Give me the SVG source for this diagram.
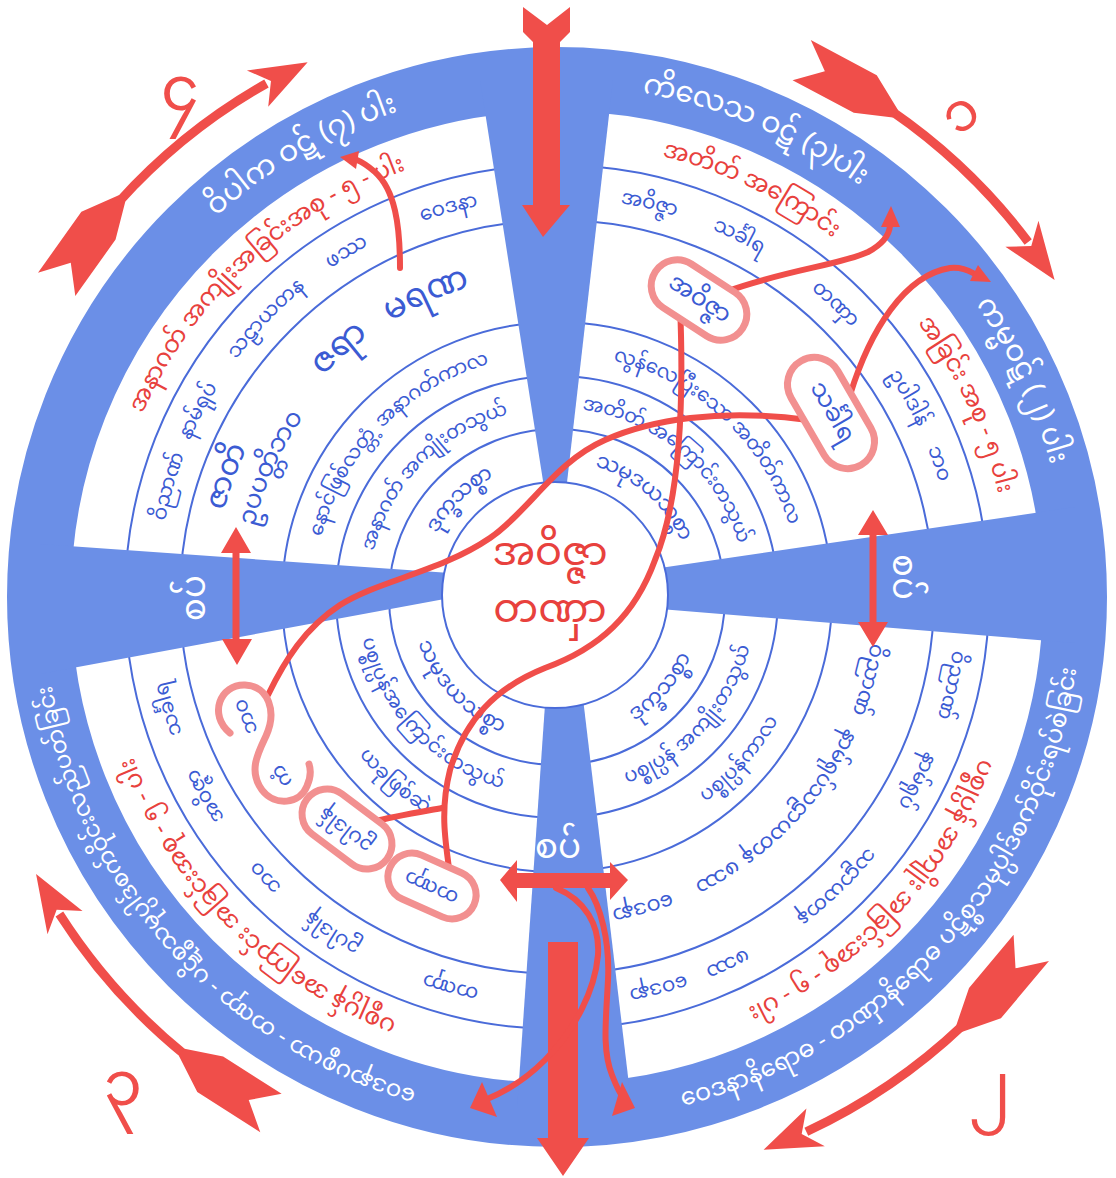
<svg xmlns="http://www.w3.org/2000/svg" width="1116" height="1178" viewBox="0 0 1116 1178">
<style>
text { font-family: 'Noto Sans Myanmar','Padauk','Myanmar Text','Noto Sans',sans-serif; text-anchor: middle; dominant-baseline: central; }
.w { fill:#ffffff; font-size:29px; }
.wl { fill:#ffffff; font-size:23px; }
.r { fill:#e8413d; font-size:24px; }
.b { fill:#3b5bd3; font-size:20px; }
.s { fill:#3b5bd3; font-size:19.5px; }
.m { fill:#3b5bd3; font-size:21px; }
.ring { fill:none; stroke:#4a6bd9; stroke-width:2; }
.blue { fill:#6b8fe7; }
.red { fill:#f04e4a; }
.rl { fill:none; stroke:#f04e4a; stroke-width:6; stroke-linecap:round; }
.pk { fill:#ffffff; stroke:#f29090; stroke-width:7; }
.pkl { fill:none; stroke:#f29090; stroke-width:7; stroke-linecap:round; }
.num { fill:#f04e4a; font-size:62px; }
</style>
<defs>
<path id="cw518" d="M 557,1115 A 518 518 0 1 1 557,79 A 518 518 0 1 1 557,1115"/>
<path id="ccw518" d="M 557,79 A 518 518 0 1 0 557,1115 A 518 518 0 1 0 557,79"/>
<path id="cw459" d="M 557,1056 A 459 459 0 1 1 557,138 A 459 459 0 1 1 557,1056"/>
<path id="cw404" d="M 557,1001 A 404 404 0 1 1 557,193 A 404 404 0 1 1 557,1001"/>
<path id="cw351" d="M 557,948 A 351 351 0 1 1 557,246 A 351 351 0 1 1 557,948"/>
<path id="cw317" d="M 557,914 A 317 317 0 1 1 557,280 A 317 317 0 1 1 557,914"/>
<path id="cw330" d="M 557,927 A 330 330 0 1 1 557,267 A 330 330 0 1 1 557,927"/>
<path id="cw322" d="M 557,919 A 322 322 0 1 1 557,275 A 322 322 0 1 1 557,919"/>
<path id="cw248" d="M 557,845 A 248 248 0 1 1 557,349 A 248 248 0 1 1 557,845"/>
<path id="ccw248" d="M 557,349 A 248 248 0 1 0 557,845 A 248 248 0 1 0 557,349"/>
<path id="cw194" d="M 557,791 A 194 194 0 1 1 557,403 A 194 194 0 1 1 557,791"/>
<path id="ccw194" d="M 557,403 A 194 194 0 1 0 557,791 A 194 194 0 1 0 557,403"/>
<path id="cw141" d="M 557,738 A 141 141 0 1 1 557,456 A 141 141 0 1 1 557,738"/>
<path id="ccw141" d="M 557,456 A 141 141 0 1 0 557,738 A 141 141 0 1 0 557,456"/>
<g id="arc-arrow">
<path d="M 102.45,-581.04 A 590 590 0 0 1 281.52,-518.50" fill="none" stroke="#f04e4a" stroke-width="9"/>
<polygon class="red" points="0,-612 74.58,-607.44 108.34,-584.54 106.70,-575.69 69.22,-563.77 0,-568 25.74,-589.44"/>
<polygon class="red" points="321.34,-494.82 282.13,-541.96 286.04,-516.03 262.74,-504.71"/>
</g>
</defs>

<rect width="1116" height="1178" fill="#ffffff"/>

<g id="wheel">
<circle class="ring" cx="557" cy="597" r="432"/>
<circle class="ring" cx="557" cy="597" r="377"/>
<circle class="ring" cx="557" cy="597" r="275"/>
<circle class="ring" cx="557" cy="597" r="221"/>
<circle class="ring" cx="557" cy="597" r="168"/>
<circle cx="557" cy="597" r="518" fill="none" stroke="#6b8fe7" stroke-width="64"/>
<polygon class="blue" points="480,80 613,80 565,500 546,500"/>
<polygon class="blue" points="40,544 450,573 450,598 40,674"/>
<polygon class="blue" points="1075,507 660,568 660,609 1075,643"/>
<polygon class="blue" points="546,690 582,690 632,1110 517,1110"/>
<circle cx="555" cy="595" r="113" fill="#ffffff" stroke="#4a6bd9" stroke-width="2"/>
</g>

<g id="band-labels">
<text class="w"><textPath href="#cw518" startOffset="1356.1">ဝိပါက ဝဋ် (၇) ပါး</textPath></text>
<text class="w"><textPath href="#cw518" startOffset="1835.3">ကိလေသ ဝဋ် (၃)ပါး</textPath></text>
<text class="w"><textPath href="#cw518" startOffset="2215.0">ကမ္မဝဋ် (၂) ပါး</textPath></text>
<text class="wl"><textPath href="#cw518" startOffset="434.0">ဝေဒနာပစ္စယာ - တဏှာ - ပဋိစ္စသမုပ္ပါဒ်စက်ဝိုင်းလည်ပတ်ခြင်း</textPath></text>
<text class="wl" style="font-size:24px"><textPath href="#ccw518" startOffset="2061.3">ဝေဒနာနိရောဓ - တဏှာနိရောဓ ပဋိစ္စသမုပ္ပါဒ်စက်ဝိုင်းရပ်စဲခြင်း</textPath></text>
<text class="w" style="font-size:34px" transform="translate(558,850)">စပ်</text>
<text class="w" style="font-size:34px" transform="translate(197,598) rotate(-90)">စပ်</text>
<text class="w" style="font-size:34px" transform="translate(901,577) rotate(90)">စပ်</text>
</g>

<g id="quadrant-past-cause">
<text class="r"><textPath href="#cw459" startOffset="1646.3">အတိတ် အကြောင်း</textPath></text>
<text class="r"><textPath href="#cw459" startOffset="1961.1">အခြင်း အစု - ၅ ပါး</textPath></text>
<text class="b"><textPath href="#cw404" startOffset="1362.3">အဝိဇ္ဇာ</textPath></text>
<text class="b"><textPath href="#cw404" startOffset="1458.2">သင်္ခါရ</textPath></text>
<text class="b"><textPath href="#cw404" startOffset="1575.9">တဏှာ</textPath></text>
<text class="b"><textPath href="#cw404" startOffset="1695.1">ဥပါဒါန်</textPath></text>
<text class="b"><textPath href="#cw404" startOffset="1767.7">ဘဝ</textPath></text>
<text class="s"><textPath href="#cw248" startOffset="965.2">လွန်လေပြီးသော အတိတ်ကာလ</textPath></text>
<text class="s"><textPath href="#cw194" startOffset="746.9">အတိတ် အကြောင်းတသွယ်</textPath></text>
<text class="m"><textPath href="#cw141" startOffset="543.9">သမုဒယသစ္စာ</textPath></text>
</g>

<g id="quadrant-present-effect">
<text class="r"><textPath href="#cw459" startOffset="2507.5">ပစ္စုပ္ပန် အကျိုး အခြင်းအစု - ၅ - ပါး</textPath></text>
<text class="b"><textPath href="#cw404" startOffset="1992.6">ဝိညာဏ်</textPath></text>
<text class="b"><textPath href="#cw404" startOffset="2094.2">နာမ်ရုပ်</textPath></text>
<text class="b"><textPath href="#cw404" startOffset="2228.1">သဠာယတန</textPath></text>
<text class="b"><textPath href="#cw404" startOffset="2362.1">ဖဿ</textPath></text>
<text class="b"><textPath href="#cw404" startOffset="2435.5">ဝေဒနာ</textPath></text>
<text class="m"><textPath href="#cw322" startOffset="1600.6">ဝိညာဏ်</textPath></text>
<text class="m"><textPath href="#cw322" startOffset="1686.0">နာမ်ရုပ်</textPath></text>
<text class="m"><textPath href="#cw322" startOffset="1770.3">သဠာယတန</textPath></text>
<text class="m"><textPath href="#cw322" startOffset="1854.6">ဖဿ</textPath></text>
<text class="m"><textPath href="#cw322" startOffset="1935.5">ဝေဒနာ</textPath></text>
<text class="s"><textPath href="#ccw248" startOffset="988.2">ပစ္စုပ္ပန်ကာလ</textPath></text>
<text class="s"><textPath href="#ccw194" startOffset="772.0">ပစ္စုပ္ပန် အကျိုးတသွယ်</textPath></text>
<text class="m"><textPath href="#ccw141" startOffset="563.5">ဒုက္ခသစ္စာ</textPath></text>
</g>

<g id="quadrant-present-cause">
<text class="r"><textPath href="#cw459" startOffset="360.5">ပစ္စုပ္ပန် အကြောင်း အခြင်းအစု - ၅ - ပါး</textPath></text>
<text class="b"><textPath href="#cw404" startOffset="107.9">တဏှာ</textPath></text>
<text class="b"><textPath href="#cw404" startOffset="237.6">ဥပါဒါန်</textPath></text>
<text class="b"><textPath href="#cw404" startOffset="325.1">ဘဝ</textPath></text>
<text class="b"><textPath href="#cw404" startOffset="426.6">အဝိဇ္ဇာ</textPath></text>
<text class="b"><textPath href="#cw404" startOffset="521.1">သင်္ခါရ</textPath></text>
<text class="s"><textPath href="#ccw248" startOffset="600.0">ယခုဖြစ်ဆဲ</textPath></text>
<text class="s"><textPath href="#ccw194" startOffset="450.3">ပစ္စုပ္ပန်အကြောင်းတသွယ်</textPath></text>
<text class="m"><textPath href="#ccw141" startOffset="327.3">သမုဒယသစ္စာ</textPath></text>
</g>

<g id="quadrant-future-effect">
<text class="r"><textPath href="#cw459" startOffset="1099.1">အနာဂတ် အကျိုးအခြင်းအစု - ၅ - ပါး</textPath></text>
<text class="b"><textPath href="#cw404" startOffset="746.7">ဝိညာဏ်</textPath></text>
<text class="b"><textPath href="#cw404" startOffset="827.8">နာမ်ရုပ်</textPath></text>
<text class="b"><textPath href="#cw404" startOffset="942.7">သဠာယတန</textPath></text>
<text class="b"><textPath href="#cw404" startOffset="1047.8">ဖဿ</textPath></text>
<text class="b"><textPath href="#cw404" startOffset="1159.2">ဝေဒနာ</textPath></text>
<text class="b" style="font-size:30px"><textPath href="#cw351" startOffset="673.9">ဇာတိ</textPath></text>
<text class="b" style="font-size:25px"><textPath href="#cw317" startOffset="631.8">ဥပပတ္တိဘဝ</textPath></text>
<text class="b" style="font-size:34px"><textPath href="#cw330" startOffset="798.9">ဇရာ</textPath></text>
<text class="b" style="font-size:34px"><textPath href="#cw330" startOffset="901.4">မရဏ</textPath></text>
<text class="s"><textPath href="#cw248" startOffset="580.0">နောင်ဖြစ်လတ္တံ့ အနာဂတ်ကာလ</textPath></text>
<text class="s"><textPath href="#cw194" startOffset="455.4">အနာဂတ် အကျိုးတသွယ်</textPath></text>
<text class="m"><textPath href="#cw141" startOffset="332.2">ဒုက္ခသစ္စာ</textPath></text>
</g>

<g id="center">
<text x="550" y="555" fill="#e8413d" style="font-size:40px">အဝိဇ္ဇာ</text>
<text x="550" y="612" fill="#e8413d" style="font-size:40px">တဏှာ</text>
</g>

<g id="connectors">
<path class="rl" d="M 400,268 C 400,225 395,190 375,172 C 368,166 362,162 357,160"/>
<polygon class="red" points="340,157 359,151 356,169"/>
<path class="rl" d="M 725,292 C 785,270 840,265 868,252 C 883,244 889,236 890,226"/>
<polygon class="red" points="891,206 881,227 900,227"/>
<path class="rl" d="M 850,395 C 870,330 905,275 950,268 C 960,267 966,269 973,273"/>
<polygon class="red" points="991,282 970,281 978,265"/>
<path class="rl" d="M 808,420 C 720,408 650,420 605,440 C 555,462 530,510 490,538 C 440,572 380,580 340,605 C 305,628 285,660 268,695"/>
<path class="rl" d="M 680,305 C 684,400 680,500 655,560 C 635,615 600,648 545,668 C 495,688 465,720 450,770 C 440,810 445,840 450,875"/>
<path class="rl" d="M 372,822 C 395,816 420,812 442,808"/>
</g>

<g id="boxes">
<rect class="pk" x="-52" y="-26" width="104" height="52" rx="26" transform="translate(699,300) rotate(33)"/>
<text class="m" style="font-size:24px" transform="translate(699,300) rotate(33)">အဝိဇ္ဇာ</text>
<rect class="pk" x="-60" y="-27" width="120" height="54" rx="27" transform="translate(831,413) rotate(60)"/>
<text class="m" style="font-size:24px" transform="translate(831,413) rotate(60)">သင်္ခါရ</text>
<path class="pkl" d="M 230,733 C 208,715 220,684 245,685 C 269,686 277,712 266,736 C 258,753 248,771 262,790 C 275,807 300,804 307,786 C 311,777 311,770 309,764"/>
<text class="b" transform="translate(247,716) rotate(249)">ဘဝ</text>
<text class="b" transform="translate(283,775) rotate(237)">ကံ</text>
<rect class="pk" x="-50" y="-25" width="100" height="50" rx="25" transform="translate(347,829) rotate(217)"/>
<text class="b" transform="translate(347,829) rotate(217)">ဥပါဒါန်</text>
<rect class="pk" x="-46" y="-24" width="92" height="48" rx="24" transform="translate(432,886) rotate(204)"/>
<text class="b" transform="translate(432,886) rotate(204)">တဏှာ</text>
</g>

<g id="arrows">
<polygon class="red" points="523,7 547,25 570,7 570,32 560,42 560,205 570,205 543,237 522,205 533,205 533,42 523,32"/>
<polygon class="red" points="236,527 251,553 239.5,553 239.5,639 252,639 237,665 222,639 232.5,639 232.5,553 221,553"/>
<polygon class="red" points="873,510 888,535 876.5,535 876.5,622 888,622 873,647 858,622 869.5,622 869.5,535 858,535"/>
<polygon class="red" points="500,880 517,860 517,873 610,873 610,862 628,880 610,900 610,888 517,888 517,902"/>
<polygon class="red" points="548,942 578,942 578,1138 589,1138 563,1176 537,1138 548,1138"/>
<path class="rl" stroke-width="8" d="M 556,888 C 585,900 600,925 598,955 C 595,990 575,1030 545,1060 C 525,1080 505,1092 485,1100"/>
<polygon class="red" points="470,1108 482,1082 497,1117"/>
<path class="rl" stroke-width="8" d="M 588,888 C 600,905 610,940 608,980 C 606,1020 602,1050 612,1075 C 617,1088 620,1094 624,1099"/>
<polygon class="red" points="635,1108 622,1082 612,1116"/>
<use href="#arc-arrow" transform="translate(557,597) rotate(-58)"/>
<use href="#arc-arrow" transform="translate(557,597) rotate(24.5)"/>
<use href="#arc-arrow" transform="translate(557,597) rotate(126.5)"/>
<use href="#arc-arrow" transform="translate(557,597) rotate(209)"/>
<text class="num" x="180" y="95">၄</text>
<text class="num" style="font-size:54px" transform="translate(963,117) rotate(-40)">၁</text>
<text class="num" x="990" y="1092">၂</text>
<text class="num" x="123" y="1090">၃</text>
</g>
</svg>
